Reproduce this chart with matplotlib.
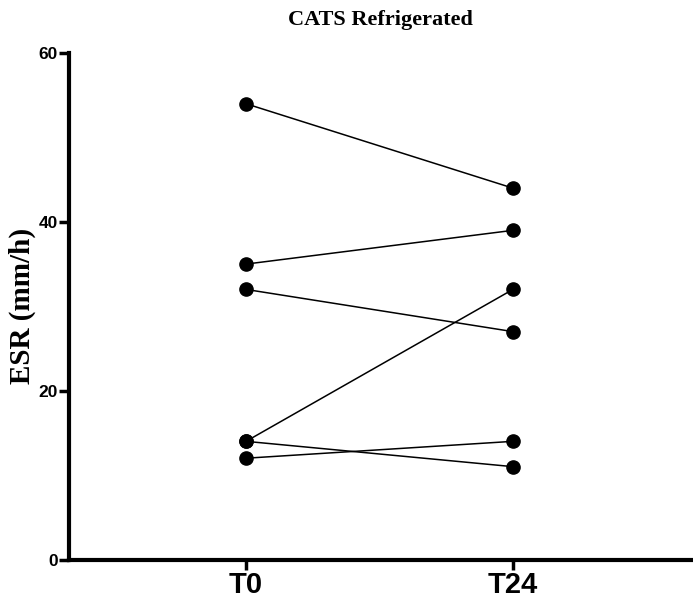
import matplotlib
matplotlib.use("Agg")
import matplotlib.pyplot as plt

# Paired ESR values, T0 -> T24
timepoints = ["T0", "T24"]
esr_t0 = [54, 35, 32, 14, 14, 12]
esr_t24 = [44, 39, 27, 32, 11, 14]
y_ticks = [0, 20, 40, 60]

fig = plt.figure(figsize=(6.93, 6.00), dpi=100)
ax = fig.add_axes([0.0996, 0.0675, 0.8975, 0.844])

x = list(range(len(timepoints)))
for a, b in zip(esr_t0, esr_t24):
    ax.plot(x, [a, b], color="black", lw=1.1, marker="o", markersize=9.5,
            markerfacecolor="black", markeredgecolor="black", clip_on=False)

ax.set_xlim(-0.663, 1.667)
ax.set_ylim(0, 60)
ax.set_xticks(x)
ax.set_xticklabels(timepoints, fontfamily="Liberation Sans", fontweight="bold", fontsize=21)
ax.set_yticks(y_ticks)
ax.set_yticklabels([str(t) for t in y_ticks], fontfamily="Liberation Sans",
                   fontweight="bold", fontsize=12.5)

for side in ("top", "right"):
    ax.spines[side].set_visible(False)
for side in ("left", "bottom"):
    ax.spines[side].set_linewidth(3)
ax.tick_params(axis="both", direction="out", length=7, width=2.5, pad=1)

ax.set_ylabel("ESR (mm/h)", fontfamily="Liberation Serif", fontweight="bold",
              fontsize=21, labelpad=2)
ax.set_title("CATS Refrigerated", fontfamily="Liberation Serif", fontweight="bold",
             fontsize=16, pad=20)

fig.savefig("out.png", dpi=100)
